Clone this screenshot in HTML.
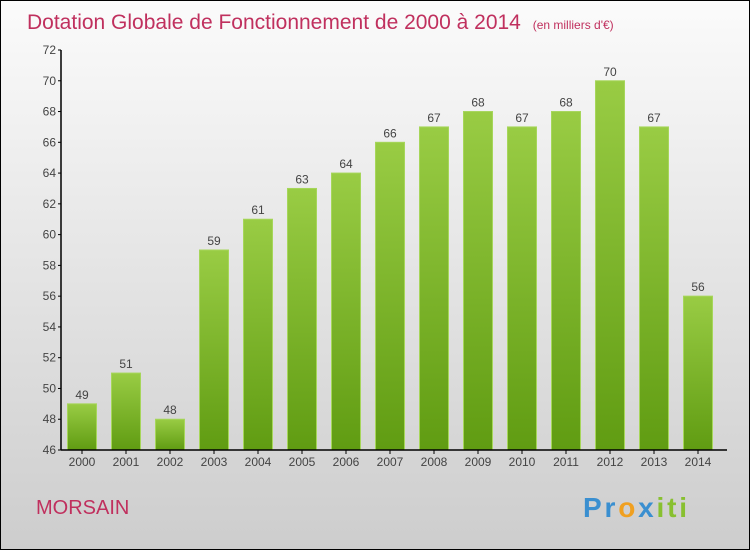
<!DOCTYPE html>
<html><head><meta charset="utf-8"><style>
body{margin:0;width:750px;height:550px;overflow:hidden;font-family:"Liberation Sans",sans-serif}
</style></head><body>
<svg width="750" height="550" xmlns="http://www.w3.org/2000/svg">
<defs>
<linearGradient id="bg" x1="0" y1="0" x2="0" y2="1"><stop offset="0" stop-color="#fbfbfb"/><stop offset="1" stop-color="#cdcdcd"/></linearGradient>
<linearGradient id="bar" x1="0" y1="0" x2="0" y2="1"><stop offset="0" stop-color="#99cc44"/><stop offset="1" stop-color="#609c12"/></linearGradient>
</defs>
<rect x="0.5" y="0.5" width="749" height="549" fill="url(#bg)" stroke="#000"/>
<text x="27" y="29" font-size="21" fill="#c0305e">Dotation Globale de Fonctionnement de 2000 à 2014 <tspan font-size="12" dx="6">(en milliers d'€)</tspan></text>
<g id="plot"></g>
<text x="36" y="514" font-size="20" fill="#c0305e">MORSAIN</text>
<text x="583" y="517" font-size="28" font-weight="bold" textLength="104"><tspan fill="#3a8fd0">Pr</tspan><tspan fill="#f0a020">o</tspan><tspan fill="#3a8fd0">x</tspan><tspan fill="#88c030">iti</tspan></text>
</svg>
<script>
const categories=["2000","2001","2002","2003","2004","2005","2006","2007","2008","2009","2010","2011","2012","2013","2014"];
const values=[49,51,48,59,61,63,64,66,67,68,67,68,70,67,56];
const yTicks=[46,48,50,52,54,56,58,60,62,64,66,68,70,72];
const NS="http://www.w3.org/2000/svg";
const g=document.getElementById('plot');
const y0=450,y1=50,vmin=46,vmax=72;
const y=v=>y0-(v-vmin)/(vmax-vmin)*(y0-y1);
const x=i=>82+i*44;
function el(t,a){const e=document.createElementNS(NS,t);for(const k in a)e.setAttribute(k,a[k]);g.appendChild(e);return e;}
yTicks.forEach(t=>{
 const l=el('line',{x1:58,x2:61,y1:y(t),y2:y(t),stroke:'#000'});
 
 
 const tx=el('text',{x:56,y:y(t)+4,'font-size':12,'text-anchor':'end',fill:'#444'});
 tx.textContent=t;
 
 
});
categories.forEach((c,i)=>{
 const v=values[i];
 const r=el('rect',{x:x(i)-14.5,y:y(v),width:29,height:y0-y(v),fill:'url(#bar)',stroke:'#a6d65a','stroke-width':1});
 
 
 const vl=el('text',{x:x(i),y:y(v)-5,'font-size':12,'text-anchor':'middle',fill:'#444'});
 vl.textContent=v;
 
 
 const tk=el('line',{x1:x(i),x2:x(i),y1:450,y2:454,stroke:'#000'});
 
 
 const xl=el('text',{x:x(i),y:466,'font-size':12,'text-anchor':'middle',fill:'#444'});
 xl.textContent=c;
 
 
});
const ya=el('line',{x1:61,x2:61,y1:50,y2:450,stroke:'#000','stroke-width':1.5});


const xa=el('line',{x1:61,x2:727,y1:450,y2:450,stroke:'#000','stroke-width':1.5});


</script>
</body></html>
